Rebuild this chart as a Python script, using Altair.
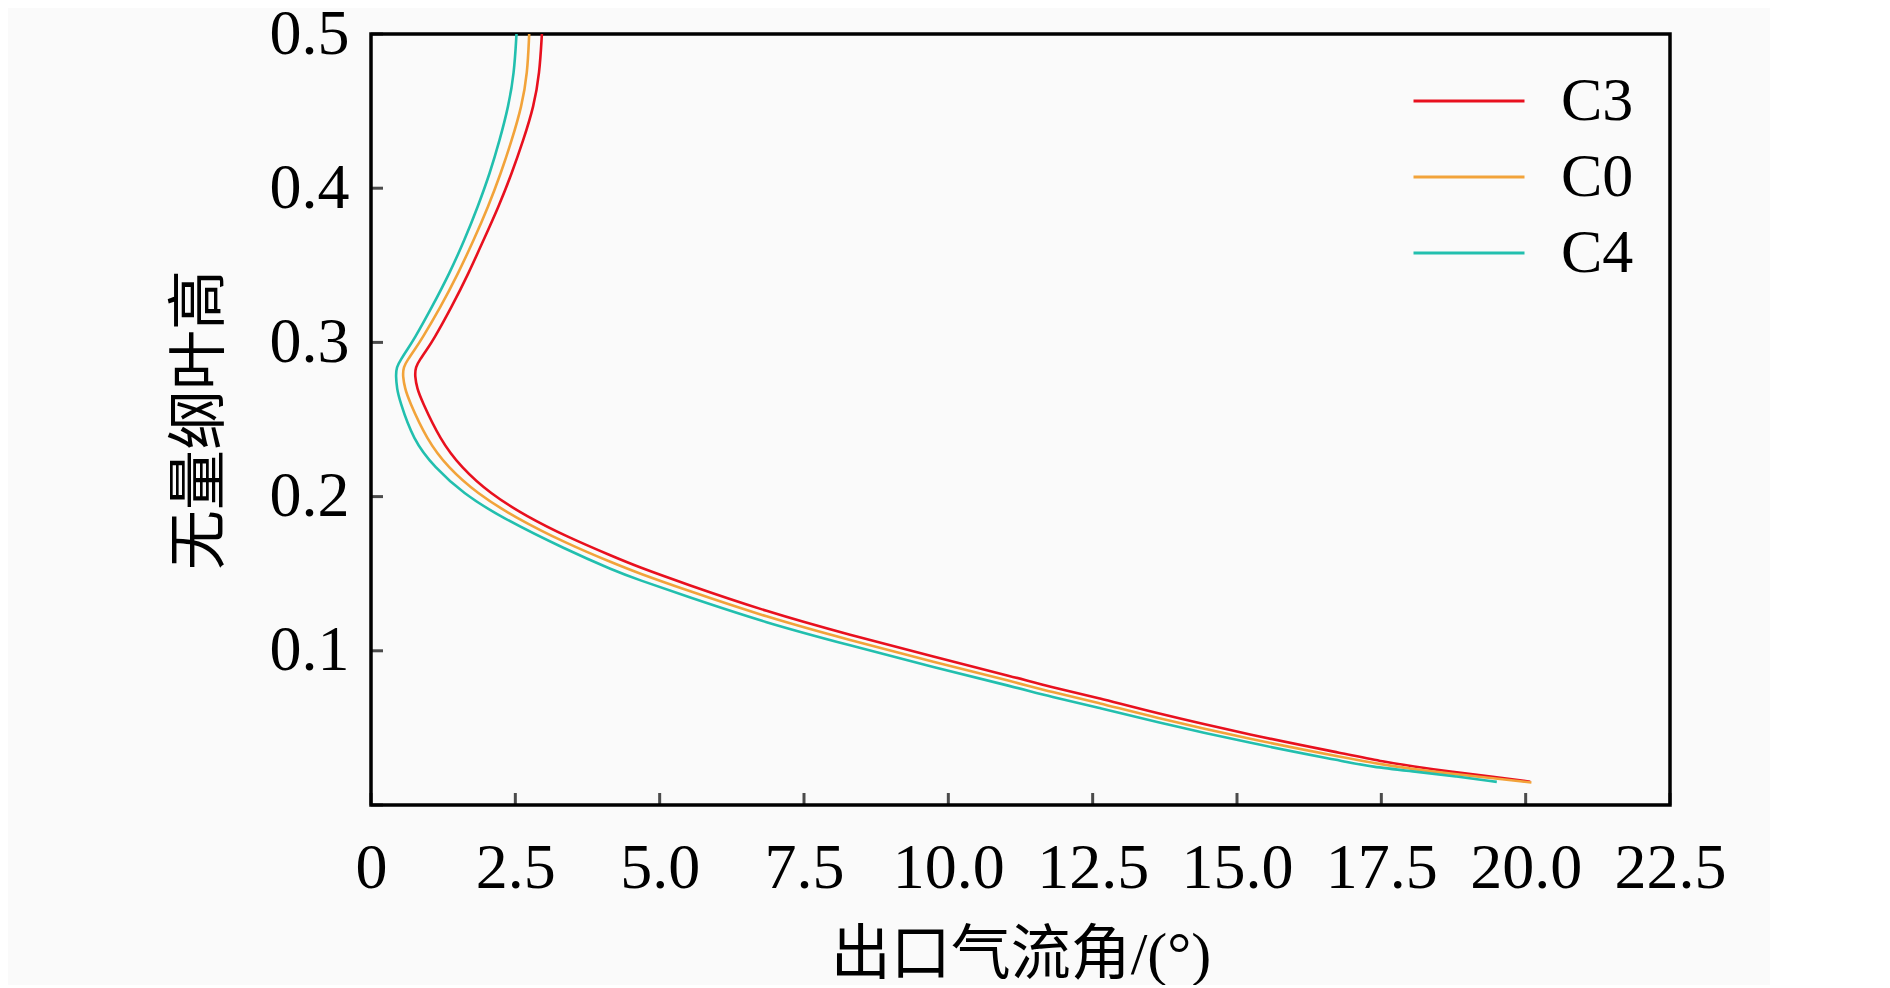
import altair as alt
import pandas as pd

# ---- data ----
C3_y = [0.0151, 0.0185, 0.0216, 0.0250, 0.0281, 0.0325, 0.0454, 0.0605, 0.0692, 0.0767,
        0.0826, 0.0962, 0.1102, 0.1254, 0.1438, 0.1545, 0.1610, 0.1740, 0.1870, 0.2020,
        0.2190, 0.2367, 0.2630, 0.2700, 0.2780, 0.2840, 0.2890, 0.2950, 0.3016, 0.3232,
        0.3448, 0.3664, 0.3880, 0.4097, 0.4313, 0.4529, 0.4745, 0.5000]
C3_x = [20.08, 19.40, 18.69, 18.05, 17.53, 16.96, 15.23, 13.49, 12.63, 11.76,
        11.18, 9.74, 8.30, 6.85, 5.41, 4.62, 4.20, 3.39, 2.70, 2.06,
        1.56, 1.20, 0.87, 0.80, 0.76, 0.77, 0.85, 0.96, 1.08, 1.40,
        1.69, 1.95, 2.21, 2.44, 2.64, 2.82, 2.92, 2.96]

C0_y = [0.0146, 0.0175, 0.0203, 0.0233, 0.0262, 0.0300, 0.0426, 0.0575, 0.0660, 0.0735,
        0.0794, 0.0929, 0.1068, 0.1218, 0.1400, 0.1505, 0.1568, 0.1695, 0.1870, 0.2020,
        0.2190, 0.2367, 0.2630, 0.2700, 0.2780, 0.2840, 0.2890, 0.2950, 0.3016, 0.3232,
        0.3448, 0.3664, 0.3880, 0.4097, 0.4313, 0.4529, 0.4745, 0.5000]
C0_x = [20.10, 19.40, 18.69, 18.05, 17.53, 16.96, 15.23, 13.49, 12.63, 11.76,
        11.18, 9.74, 8.30, 6.85, 5.41, 4.62, 4.20, 3.39, 2.47, 1.84,
        1.33, 0.97, 0.65, 0.59, 0.55, 0.56, 0.64, 0.75, 0.87, 1.21,
        1.51, 1.78, 2.03, 2.25, 2.44, 2.61, 2.71, 2.74]

C4_y = [0.0150, 0.0185, 0.0216, 0.0249, 0.0280, 0.0400, 0.0548, 0.0630, 0.0703, 0.0762,
        0.0894, 0.1035, 0.1180, 0.1360, 0.1462, 0.1522, 0.1654, 0.1870, 0.2020,
        0.2190, 0.2367, 0.2630, 0.2700, 0.2780, 0.2840, 0.2890, 0.2950, 0.3016, 0.3232,
        0.3448, 0.3664, 0.3880, 0.4097, 0.4313, 0.4529, 0.4745, 0.5000]
C4_x = [19.50, 18.80, 18.10, 17.30, 16.90, 15.23, 13.49, 12.63, 11.76, 11.18,
        9.74, 8.30, 6.85, 5.41, 4.62, 4.20, 3.39, 2.23, 1.60,
        1.10, 0.73, 0.49, 0.45, 0.43, 0.44, 0.52, 0.62, 0.74, 1.06,
        1.36, 1.62, 1.85, 2.06, 2.23, 2.38, 2.48, 2.52]

series_names = ["C3", "C0", "C4"]
series_colors = ["#E8101E", "#F2A33A", "#22BFAE"]
x_ticks = [0, 2.5, 5.0, 7.5, 10.0, 12.5, 15.0, 17.5, 20.0, 22.5]
y_ticks = [0, 0.1, 0.2, 0.3, 0.4, 0.5]
x_title = "出口气流角/(°)"
y_title = "无量纲叶高"

rows = []
for name, xs, ys in [("C3", C3_x, C3_y), ("C0", C0_x, C0_y), ("C4", C4_x, C4_y)]:
    for i, (xv, yv) in enumerate(zip(xs, ys)):
        rows.append({"series": name, "angle": xv, "height": yv, "idx": i})
df = pd.DataFrame(rows)
xtick_df = pd.DataFrame({"v": x_ticks})
ytick_df = pd.DataFrame({"v": y_ticks})

FONT = "Liberation Serif, Times New Roman, Noto Sans CJK SC"

xscale = alt.Scale(domain=[0, 22.5], nice=False, zero=False)
yscale = alt.Scale(domain=[0, 0.5], nice=False, zero=False)

color = alt.Color(
    "series:N",
    scale=alt.Scale(domain=series_names, range=series_colors),
    legend=alt.Legend(
        title=None, orient="none", legendX=1067, legendY=36,
        symbolType="M-2,0L2,0", symbolSize=3080, symbolStrokeWidth=3,
        labelFont=FONT, labelFontSize=62, labelColor="black",
        labelOffset=61, rowPadding=14,
    ),
)

x_axis = alt.Axis(values=x_ticks, title=x_title, domain=False, ticks=False, tickSize=0,
                  grid=False, labelFont=FONT, labelFontSize=64, labelColor="black",
                  labelPadding=31, labelOverlap=False, labelFlush=False,
                  titleFont=FONT, titleFontSize=60,
                  titleFontWeight="normal", titleColor="black", titlePadding=26,
                  labelExpr="datum.value == 0 ? '0' : format(datum.value, '.1f')")
y_axis = alt.Axis(values=y_ticks, title=y_title, domain=False, ticks=False, tickSize=0,
                  grid=False, labelFont=FONT, labelFontSize=64, labelColor="black",
                  labelPadding=22, labelOverlap=False, labelFlush=False,
                  titleFont=FONT, titleFontSize=60,
                  titleFontWeight="normal", titleColor="black", titlePadding=38,
                  labelExpr="datum.value == 0 ? '' : format(datum.value, '.1f')")

lines = alt.Chart(df).mark_line(strokeWidth=2.6, interpolate="basis").encode(
    x=alt.X("angle:Q", scale=xscale, axis=x_axis),
    y=alt.Y("height:Q", scale=yscale, axis=y_axis),
    color=color,
    order="idx:Q",
)

ytick_marks = alt.Chart(ytick_df).mark_tick(
    orient="horizontal", size=12, thickness=3, color="black", xOffset=6
).encode(
    y=alt.Y("v:Q", scale=yscale, axis=None),
    x=alt.X(datum=0, scale=xscale, axis=None),
)

xtick_marks = alt.Chart(xtick_df).mark_tick(
    orient="vertical", size=12, thickness=3, color="black", yOffset=-6
).encode(
    x=alt.X("v:Q", scale=xscale, axis=None),
    y=alt.Y(datum=0, scale=yscale, axis=None),
)

chart = alt.layer(lines, ytick_marks, xtick_marks).resolve_axis(
    x="independent", y="independent"
).properties(
    width=1299, height=771,
    autosize=alt.AutoSizeParams(type="none"),
    padding={"left": 363, "top": 26, "right": 100, "bottom": 180},
    background="#FAFAFA",
).configure_view(stroke="black", strokeWidth=3.5)

chart.save("out.html", embed_options={"renderer": "svg", "actions": False})
